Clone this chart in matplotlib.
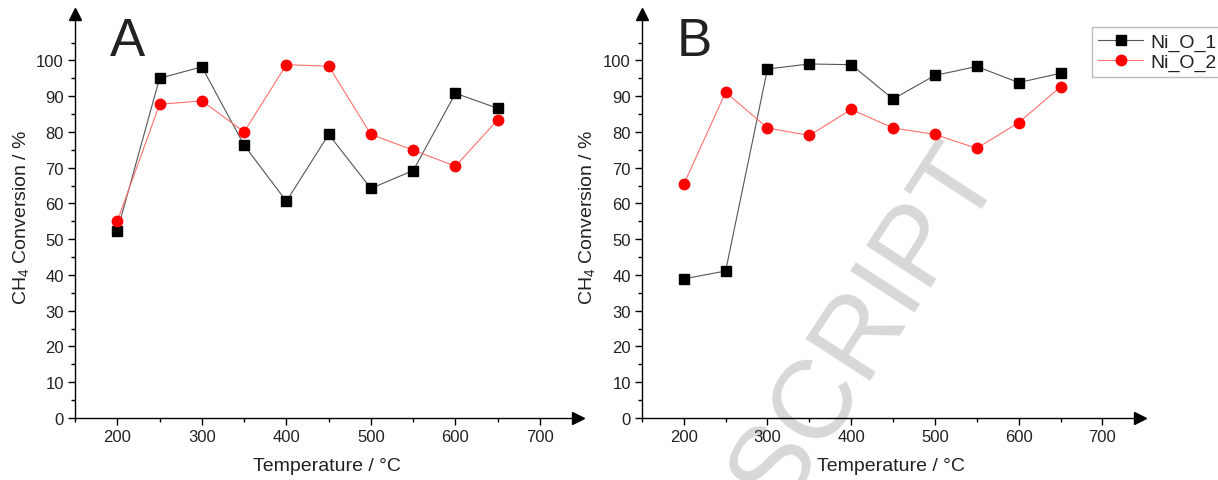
import numpy as np
import matplotlib.pyplot as plt

plt.rcParams['font.family'] = ['Liberation Sans', 'DejaVu Sans']
plt.rcParams['mathtext.fontset'] = 'custom'
plt.rcParams['mathtext.rm'] = 'Liberation Sans'
plt.rcParams['mathtext.it'] = 'Liberation Sans'
plt.rcParams['mathtext.default'] = 'regular'

# temperatures (°C)
temperature = [200, 250, 300, 350, 400, 450, 500, 550, 600, 650]

# panel A, CH4 conversion (%)
a_ni_o_1 = [52.3, 95.0, 98.2, 76.3, 60.6, 79.3, 64.2, 69.2, 90.8, 86.6]
a_ni_o_2 = [55.0, 87.7, 88.7, 80.0, 98.8, 98.4, 79.3, 74.9, 70.4, 83.4]

# panel B, CH4 conversion (%)
b_ni_o_1 = [38.9, 41.1, 97.6, 99.0, 98.8, 89.2, 95.8, 98.3, 93.8, 96.4]
b_ni_o_2 = [65.3, 91.1, 81.1, 79.0, 86.3, 81.1, 79.3, 75.4, 82.6, 92.6]

series_names = ['Ni_O_1', 'Ni_O_2']
panel_labels = ['A', 'B']

TXT = '#222222'


def style_axis(ax, letter):
    ax.set_facecolor('none')
    ax.set_xlim(150, 745)
    ax.set_ylim(0, 113)
    ax.spines['top'].set_visible(False)
    ax.spines['right'].set_visible(False)
    for s in ('left', 'bottom'):
        ax.spines[s].set_linewidth(1.0)
    ax.set_xticks(np.arange(200, 701, 100))
    ax.set_xticks(np.arange(150, 701, 50), minor=True)
    ax.set_yticks(np.arange(0, 101, 10))
    ax.set_yticks(np.arange(0, 106, 5), minor=True)
    ax.tick_params(which='major', direction='out', length=5, width=1.0,
                   labelsize=12, pad=3, labelcolor=TXT)
    ax.tick_params(which='minor', direction='out', length=3, width=1.0)
    ax.set_xlabel('Temperature / °C', fontsize=14, labelpad=9, color=TXT)
    ax.set_ylabel('CH$_4$ Conversion / %', fontsize=14, labelpad=4, color=TXT)
    # arrow heads on the axes
    ax.plot(1, 0, '>k', markersize=8, transform=ax.get_yaxis_transform(), clip_on=False)
    ax.plot(150, 1, '^k', markersize=8, transform=ax.get_xaxis_transform(), clip_on=False)
    ax.text(0.07, 0.995, letter, transform=ax.transAxes, fontsize=38,
            va='top', ha='left', color=TXT)


fig = plt.figure(figsize=(12.18, 4.81), dpi=100)

# watermark, drawn behind the (transparent) axes
fig.text(0.712, 0.322, 'SCRIPT', fontsize=80, color='#d8d8d8', rotation=57,
         ha='center', va='center', zorder=-1)

ax_a = fig.add_axes([0.0616, 0.129, 0.413, 0.840])
ax_b = fig.add_axes([0.527, 0.129, 0.409, 0.840])

for ax, s1, s2, letter in [(ax_a, a_ni_o_1, a_ni_o_2, 'A'),
                           (ax_b, b_ni_o_1, b_ni_o_2, 'B')]:
    ax.plot(temperature, s1, '-s', color='#555555', lw=0.8, markersize=6.5,
            markerfacecolor='black', markeredgecolor='black', label=series_names[0])
    ax.plot(temperature, s2, '-o', color='#ff7070', lw=0.8, markersize=7.5,
            markerfacecolor='red', markeredgecolor='red', label=series_names[1])
    style_axis(ax, letter)

handles, labels = ax_b.get_legend_handles_labels()
leg = fig.legend(handles, labels, loc='upper right', bbox_to_anchor=(1.012, 0.962),
                 fontsize=14, frameon=True, fancybox=False, edgecolor='#aaaaaa',
                 handlelength=2.3, borderpad=0.3, labelspacing=0.15, handletextpad=0.4)
for t in leg.get_texts():
    t.set_color(TXT)

fig.savefig('out.png', dpi=100)
